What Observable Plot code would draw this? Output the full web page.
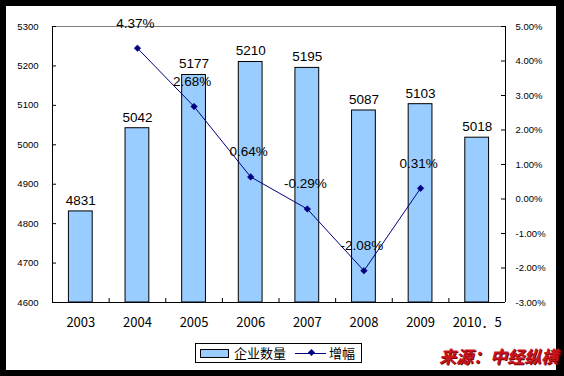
<!DOCTYPE html>
<html>
<head>
<meta charset="utf-8">
<script src="https://cdn.jsdelivr.net/npm/d3@7"></script>
<script src="https://cdn.jsdelivr.net/npm/@observablehq/plot@0.6"></script>
<style>
  html, body { margin: 0; padding: 0; background: #000; }
  #wrap { position: relative; width: 564px; height: 376px; background: #000; overflow: hidden; }
  #inner { position: absolute; left: 6px; top: 6px; width: 550px; height: 364px; background: #fff; }
  #chart { position: absolute; left: 0; top: 0; }
  #legend { position: absolute; left: 195px; top: 343px; width: 165px; height: 18px; border: 1px solid #000; background: #fff;
            font-family: "Noto Sans CJK SC", sans-serif; font-size: 13px; line-height: 18px; color: #000; }
  #legend .sw { position: absolute; left: 4px; top: 5px; width: 27px; height: 7px; background: #99ccff; border: 1px solid #000; }
  #legend .t1 { position: absolute; left: 38px; top: 0; }
  #legend .ln { position: absolute; left: 99px; top: 9px; width: 31px; height: 1px; background: #000080; }
  #legend .dm { position: absolute; left: 113px; top: 6px; width: 5px; height: 5px; background: #000080; transform: rotate(45deg); }
  #legend .t2 { position: absolute; left: 133px; top: 0; }
  #source { position: absolute; left: 439px; top: 346px; font-family: "Noto Sans CJK SC", sans-serif; font-weight: bold; font-style: italic;
            font-size: 17px; line-height: 20px; color: #c8141e; text-shadow: 1px 1px 0 #7a0000; white-space: nowrap; }
</style>
</head>
<body>
<div id="wrap">
  <div id="inner"></div>
  <div id="chart"></div>
  <div id="legend"><span class="sw"></span><span class="t1">企业数量</span><span class="ln"></span><span class="dm"></span><span class="t2">增幅</span></div>
  <div id="source">来源：中经纵横</div>
</div>
<script>
const years = ["2003", "2004", "2005", "2006", "2007", "2008", "2009", "2010．5"];
const counts = [4831, 5042, 5177, 5210, 5195, 5087, 5103, 5018];
const growth = [null, 4.37, 2.68, 0.64, -0.29, -2.08, 0.31, null];
const leftTicks = [4600, 4700, 4800, 4900, 5000, 5100, 5200, 5300];
const rightTicks = [-3, -2, -1, 0, 1, 2, 3, 4, 5];

const yMin = 4600, yMax = 5300, pMin = -3, pMax = 5;
const toY = p => yMin + (p - pMin) / (pMax - pMin) * (yMax - yMin);
const fromY = v => pMin + (v - yMin) / (yMax - yMin) * (pMax - pMin);

const data = years.map((yr, i) => ({i, year: yr, count: counts[i], pct: growth[i]}));
const pctData = data.filter(d => d.pct != null);

const font = "Liberation Sans, Arial, sans-serif";

const chart = Plot.plot({
  width: 564,
  height: 376,
  marginLeft: 52,
  marginRight: 59,
  marginTop: 26,
  marginBottom: 74,
  style: {background: "transparent", fontFamily: font, color: "#000"},
  x: {type: "linear", domain: [0, years.length], label: null},
  y: {domain: [yMin, yMax], label: null},
  marks: [
    Plot.ruleY([yMax], {stroke: "#808080", strokeWidth: 1}),
    Plot.rectY(data, {x1: d => d.i + 0.29, x2: d => d.i + 0.71, y1: yMin, y2: "count", fill: "#99ccff", stroke: "#000", strokeWidth: 1}),
    Plot.ruleX([0, years.length], {stroke: "#000", strokeWidth: 1}),
    Plot.ruleY([yMin], {stroke: "#000", strokeWidth: 1}),
    Plot.ruleY(leftTicks, {x1: 0, x2: 0, insetRight: -4, stroke: "#000"}),
    Plot.ruleY(rightTicks.map(toY), {x1: years.length, x2: years.length, insetLeft: -4, stroke: "#000"}),
    Plot.ruleX(d3.range(years.length + 1), {y1: yMin, y2: yMin, insetBottom: 4, stroke: "#000"}),
    Plot.axisY(leftTicks, {anchor: "left", tickSize: 0, tickPadding: 14, fontSize: 9.5, label: null, tickFormat: d => String(d)}),
    Plot.axisY(rightTicks.map(toY), {anchor: "right", tickSize: 0, tickPadding: 10, fontSize: 9.5, label: null,
      tickFormat: v => fromY(v).toFixed(2) + "%"}),
    Plot.axisX(d3.range(years.length).map(i => i + 0.5), {anchor: "bottom", tickSize: 0, tickPadding: 15, fontSize: 13, label: null,
      fontFamily: "Noto Sans CJK SC, sans-serif", tickFormat: v => years[Math.floor(v)]}),
    Plot.text(data, {x: d => d.i + 0.5, y: "count", text: d => String(d.count), dy: -11, fontSize: 13.5, fill: "#000"}),
    Plot.line(pctData, {x: d => d.i + 0.5, y: d => toY(d.pct), stroke: "#000080", strokeWidth: 1}),
    Plot.dot(pctData, {x: d => d.i + 0.5, y: d => toY(d.pct), symbol: "diamond2", r: 3, fill: "#000080", stroke: "#000080", strokeWidth: 0.5}),
    Plot.text(pctData, {x: d => d.i + 0.5, y: d => toY(d.pct), text: d => d.pct.toFixed(2) + "%", dx: -2, dy: -25, fontSize: 13.5, fill: "#000"})
  ]
});
document.getElementById("chart").appendChild(chart);
</script>
</body>
</html>
